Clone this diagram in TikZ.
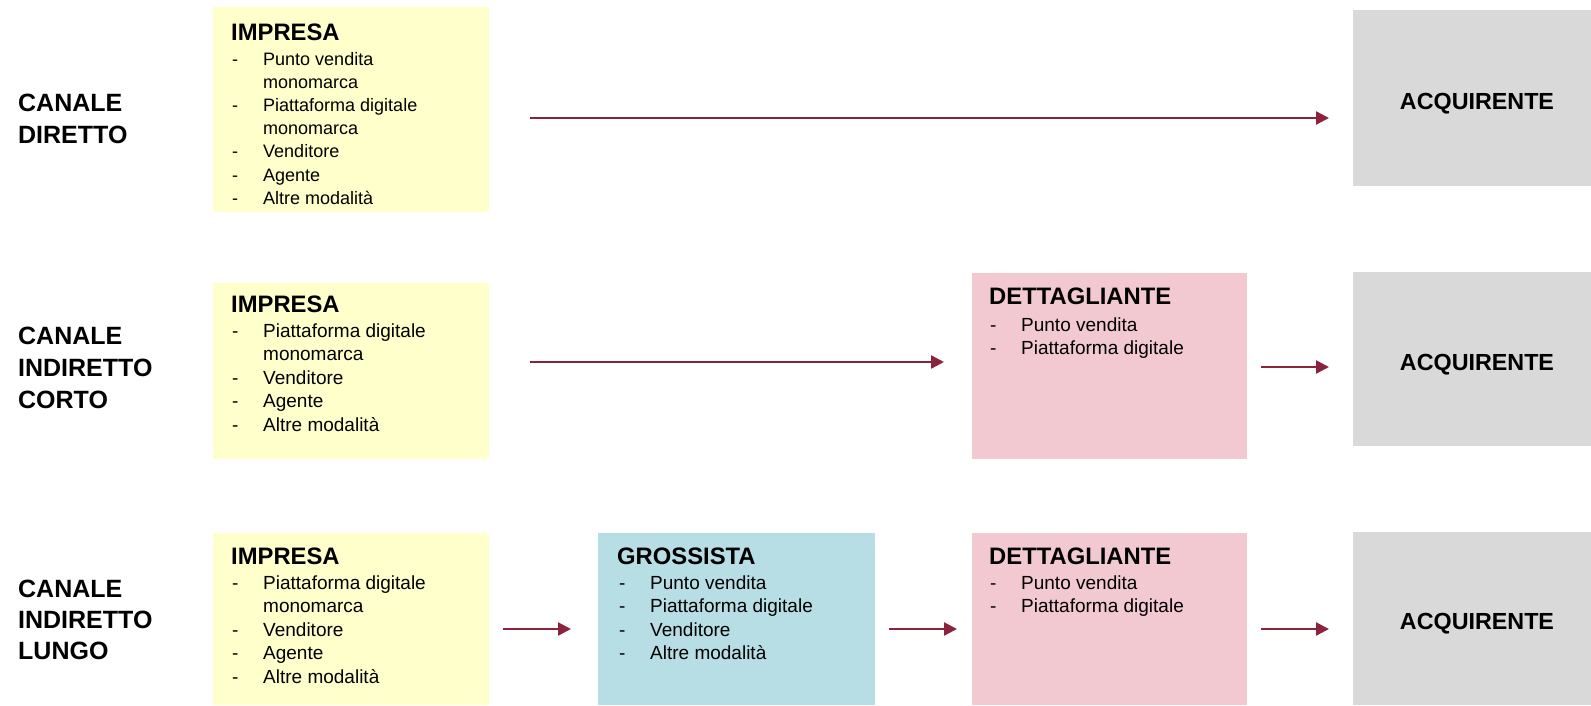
\documentclass[tikz,border=0pt]{standalone}
\usepackage{fontspec}
\setmainfont{Liberation Sans}
\usetikzlibrary{arrows.meta}

\definecolor{impresaY}{RGB}{255,255,204}
\definecolor{dettP}{RGB}{242,201,209}
\definecolor{grossB}{RGB}{183,222,228}
\definecolor{acqG}{RGB}{217,217,217}
\definecolor{arrowR}{RGB}{139,35,60}

% list helpers: a dash column and a continuation indent
\newcommand{\itmdash}{\makebox[31pt][l]{-}}
\newcommand{\itmcont}{\hspace*{31pt}}

\begin{document}
\begin{tikzpicture}[x=1pt,y=-1pt,
  box/.style={inner sep=0pt, outer sep=0pt, anchor=north west},
  ttl/.style={inner sep=0pt, anchor=base west, font=\fontsize{23.8}{27}\selectfont\bfseries},
  lst/.style={inner sep=0pt, anchor=base west},
  lbl/.style={inner sep=0pt, anchor=base west, font=\fontsize{25}{29}\selectfont\bfseries},
  acq/.style={inner sep=0pt, anchor=base, font=\fontsize{23.3}{27}\selectfont\bfseries},
  arr/.style={draw=arrowR, line width=2.3pt, -{Triangle[length=13pt,width=13pt]}}
]
\useasboundingbox (0,0) rectangle (1591,705);

% ---------- row 1: canale diretto ----------
\node[lbl] (l1a) at (18,111) {CANALE};
\node[lbl] (l1b) at (18,143) {DIRETTO};

\node[box, fill=impresaY, minimum width=276pt, minimum height=205pt] (imp1) at (213,7) {};
\node[ttl] (imp1t) at (231,40) {IMPRESA};
\node[lst] (imp1l) at (232,65) {\parbox[t]{250pt}{\fontsize{18}{23.2}\selectfont
  \itmdash Punto vendita\\
  \itmcont monomarca\\
  \itmdash Piattaforma digitale\\
  \itmcont monomarca\\
  \itmdash Venditore\\
  \itmdash Agente\\
  \itmdash Altre modalità}};

\node[box, fill=acqG, minimum width=238pt, minimum height=176pt] (acq1) at (1353,10) {};
\node[acq] (acq1t) at (1477,109.5) {ACQUIRENTE};

\coordinate (a1s) at (530,118);
\coordinate (a1e) at (1329,118);
\draw[arr] (a1s) -- (a1e);

% ---------- row 2: canale indiretto corto ----------
\node[lbl] (l2a) at (18,344) {CANALE};
\node[lbl] (l2b) at (18,376) {INDIRETTO};
\node[lbl] (l2c) at (18,408) {CORTO};

\node[box, fill=impresaY, minimum width=276pt, minimum height=176pt] (imp2) at (213,283) {};
\node[ttl] (imp2t) at (231,312) {IMPRESA};
\node[lst] (imp2l) at (232,337) {\parbox[t]{250pt}{\fontsize{19}{23.6}\selectfont
  \itmdash Piattaforma digitale\\
  \itmcont monomarca\\
  \itmdash Venditore\\
  \itmdash Agente\\
  \itmdash Altre modalità}};

\node[box, fill=dettP, minimum width=275pt, minimum height=186pt] (det2) at (972,273) {};
\node[ttl] (det2t) at (989,304) {DETTAGLIANTE};
\node[lst] (det2l) at (990,331) {\parbox[t]{250pt}{\fontsize{19}{23.4}\selectfont
  \itmdash Punto vendita\\
  \itmdash Piattaforma digitale}};

\node[box, fill=acqG, minimum width=238pt, minimum height=174pt] (acq2) at (1353,272) {};
\node[acq] (acq2t) at (1477,370) {ACQUIRENTE};

\coordinate (a2s) at (530,362);
\coordinate (a2e) at (944,362);
\draw[arr] (a2s) -- (a2e);
\coordinate (a3s) at (1261,367);
\coordinate (a3e) at (1329,367);
\draw[arr] (a3s) -- (a3e);

% ---------- row 3: canale indiretto lungo ----------
\node[lbl] (l3a) at (18,597) {CANALE};
\node[lbl] (l3b) at (18,628) {INDIRETTO};
\node[lbl] (l3c) at (18,659) {LUNGO};

\node[box, fill=impresaY, minimum width=276pt, minimum height=172pt] (imp3) at (213,533) {};
\node[ttl] (imp3t) at (231,564) {IMPRESA};
\node[lst] (imp3l) at (232,589.5) {\parbox[t]{250pt}{\fontsize{19}{23.4}\selectfont
  \itmdash Piattaforma digitale\\
  \itmcont monomarca\\
  \itmdash Venditore\\
  \itmdash Agente\\
  \itmdash Altre modalità}};

\node[box, fill=grossB, minimum width=277pt, minimum height=172pt] (gro3) at (598,533) {};
\node[ttl] (gro3t) at (617,564) {GROSSISTA};
\node[lst] (gro3l) at (619,589.5) {\parbox[t]{250pt}{\fontsize{19}{23.4}\selectfont
  \itmdash Punto vendita\\
  \itmdash Piattaforma digitale\\
  \itmdash Venditore\\
  \itmdash Altre modalità}};

\node[box, fill=dettP, minimum width=275pt, minimum height=172pt] (det3) at (972,533) {};
\node[ttl] (det3t) at (989,564) {DETTAGLIANTE};
\node[lst] (det3l) at (990,589.5) {\parbox[t]{250pt}{\fontsize{19}{23.4}\selectfont
  \itmdash Punto vendita\\
  \itmdash Piattaforma digitale}};

\node[box, fill=acqG, minimum width=238pt, minimum height=173pt] (acq3) at (1353,532) {};
\node[acq] (acq3t) at (1477,629.5) {ACQUIRENTE};

\coordinate (a4s) at (503,629);
\coordinate (a4e) at (571,629);
\draw[arr] (a4s) -- (a4e);
\coordinate (a5s) at (889,629);
\coordinate (a5e) at (957,629);
\draw[arr] (a5s) -- (a5e);
\coordinate (a6s) at (1261,629);
\coordinate (a6e) at (1329,629);
\draw[arr] (a6s) -- (a6e);
\end{tikzpicture}
\end{document}
